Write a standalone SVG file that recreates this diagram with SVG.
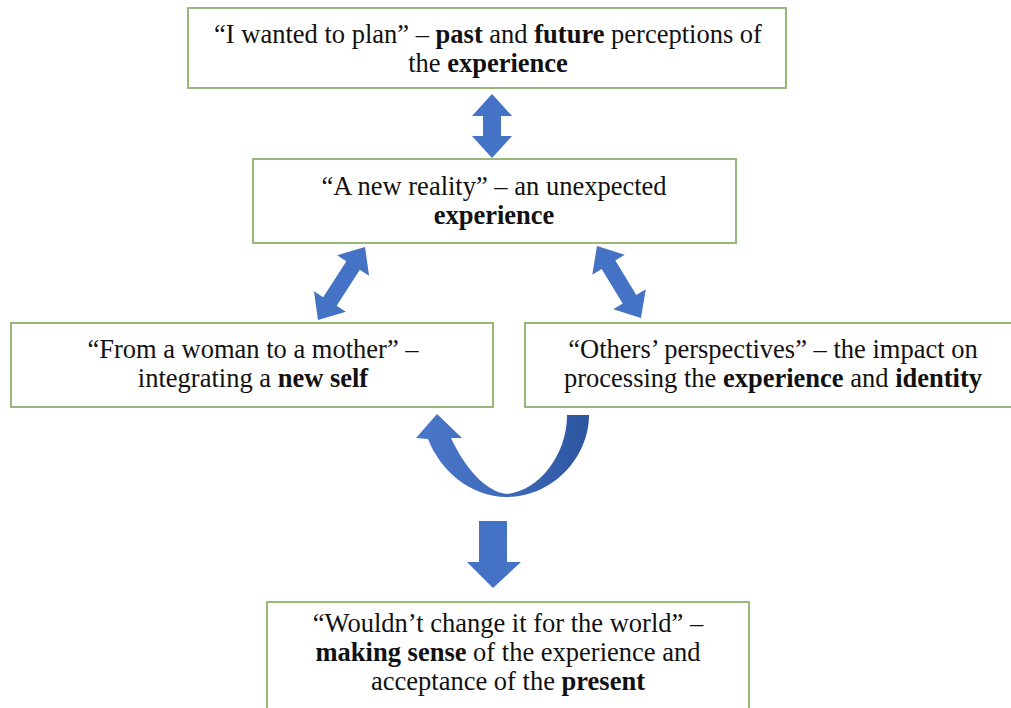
<svg xmlns="http://www.w3.org/2000/svg" width="1011" height="708" viewBox="0 0 1011 708">
  <style>
    .box { fill: #ffffff; stroke: #97b877; stroke-width: 2; }
    .t { font-family: "Liberation Serif", "Times New Roman", serif; font-size: 26.5px; fill: #111111; text-anchor: middle; }
    .b { font-weight: bold; }
    .arrow { fill: #4472c4; }
  </style>
  <defs>
    <linearGradient id="curveFill" x1="0" y1="0" x2="1" y2="0">
      <stop offset="0" stop-color="#4a78c9"/>
      <stop offset="0.55" stop-color="#3d69b8"/>
      <stop offset="1" stop-color="#2c559e"/>
    </linearGradient>
  </defs>
  <rect width="1011" height="708" fill="#ffffff"/>

  <g id="connectors">
    <!-- vertical double arrow between top boxes -->
    <path class="arrow" d="M492 94 L512 116 L501 116 L501 136 L512 136 L492 158 L472 136 L483 136 L483 116 L472 116 Z"/>
    <!-- diagonal double arrows -->
    <g transform="translate(341.5 283.5) rotate(32.8)">
      <path class="arrow" d="M0 -43.4 L19 -21.4 L8 -21.4 L8 21.4 L19 21.4 L0 43.4 L-19 21.4 L-8 21.4 L-8 -21.4 L-19 -21.4 Z"/>
    </g>
    <g transform="translate(619 282) rotate(-31.4)">
      <path class="arrow" d="M0 -42.2 L19 -20.2 L8 -20.2 L8 20.2 L19 20.2 L0 42.2 L-19 20.2 L-8 20.2 L-8 -20.2 L-19 -20.2 Z"/>
    </g>
    <!-- U-turn arrow -->
    <path fill="url(#curveFill)" d="M589 415 C589 458 552 497 507 497 C470 497 440 470 428 439 L416 438 L437 414 L462 438 L451 438 C464 466 485 492 507 494 C538 491 567 456 567 415 Z"/>
    <!-- downward arrow -->
    <path class="arrow" d="M479 521 L507 521 L507 562 L521 562 L493 588 L467 562 L479 562 Z"/>
  </g>

  <g id="node-plan">
    <rect class="box" x="188" y="8" width="598" height="80"/>
    <text class="t" x="488" y="43">“I wanted to plan” – <tspan class="b">past</tspan> and <tspan class="b">future</tspan> perceptions of</text>
    <text class="t" x="488" y="72">the <tspan class="b">experience</tspan></text>
  </g>

  <g id="node-reality">
    <rect class="box" x="253" y="159" width="483" height="84"/>
    <text class="t" x="494" y="195">“A new reality” – an unexpected</text>
    <text class="t b" x="494" y="224">experience</text>
  </g>

  <g id="node-self">
    <rect class="box" x="11" y="323" width="482" height="84"/>
    <text class="t" x="253" y="358">“From a woman to a mother” –</text>
    <text class="t" x="253" y="387">integrating a <tspan class="b">new self</tspan></text>
  </g>

  <g id="node-others">
    <rect class="box" x="525" y="323" width="500" height="84"/>
    <text class="t" x="773" y="358">“Others’ perspectives” – the impact on</text>
    <text class="t" x="773" y="387">processing the <tspan class="b">experience</tspan> and <tspan class="b">identity</tspan></text>
  </g>

  <g id="node-present">
    <rect class="box" x="267" y="602" width="482" height="120"/>
    <text class="t" x="508" y="632">“Wouldn’t change it for the world” –</text>
    <text class="t" x="508" y="661"><tspan class="b">making sense</tspan> of the experience and</text>
    <text class="t" x="508" y="690">acceptance of the <tspan class="b">present</tspan></text>
  </g>
</svg>
